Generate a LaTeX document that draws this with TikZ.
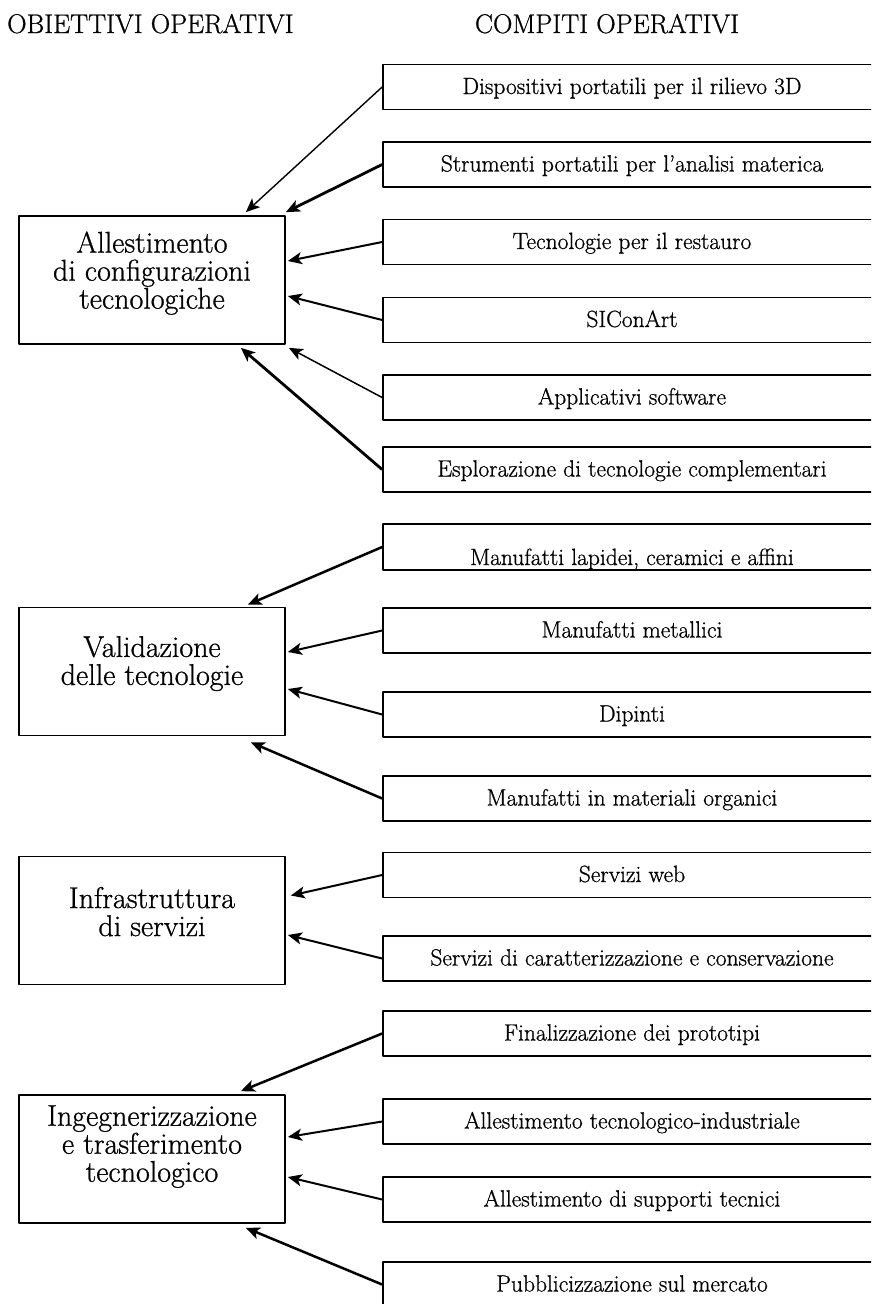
\documentclass[tikz,border=0pt]{standalone}
\usepackage{fontspec}
\setmainfont{Latin Modern Roman}[FakeBold=0.8]
\usepackage{tikz}
\usetikzlibrary{positioning,arrows.meta,calc}
\definecolor{ink}{HTML}{000000}

\tikzset{
  goal/.style={draw=ink, line width=1.7pt, minimum width=266pt, minimum height=128pt,
    align=center, inner sep=0pt, font=\fontsize{30}{28}\selectfont, text depth=#1},
  goal/.default=5pt,
  task/.style={draw=ink, line width=1.7pt, minimum width=498pt, minimum height=45pt,
    inner ysep=0pt, font=\fontsize{23.5}{26}\selectfont, text height=17pt, text depth=3pt},
  feed/.style={-{Stealth[length=14pt,width=12pt,inset=3.5pt]}, line width=#1},
  feed/.default=2pt,
  head/.style={inner sep=0pt, font=\fontsize{27}{30}\selectfont}
}

\begin{document}
\begin{tikzpicture}[x=1pt, y=-1pt, line join=round]
  \useasboundingbox (0,0) rectangle (871,1304);
  \clip (0,0) rectangle (871,1304);

  % column headings
  \node[head, anchor=base west] (hobj) at (7,33) {OBIETTIVI OPERATIVI};
  \node[head, anchor=base] (hcomp) at (607,33) {COMPITI OPERATIVI};

  % operative objectives, left column
  \node[goal=20pt] (alle) at (152,280) {Allestimento\\di configurazioni\\tecnologiche};
  \node[goal=22pt] (vali) at (152,671.5) {Validazione\\delle tecnologie};
  \node[goal=18pt] (infra) at (152,920.5) {Infrastruttura\\di servizi};
  \node[goal=31pt] (inge) at (152,1159) {Ingegnerizzazione\\e trasferimento\\tecnologico};

  % operative tasks, right column
  \node[task] (rilievo) at (632,87) {Dispositivi portatili per il rilievo 3D};
  \node[task] (analisi) at (632,164.5) {Strumenti portatili per l’analisi materica};
  \node[task] (restauro) at (632,242) {Tecnologie per il restauro};
  \node[task] (siconart) at (632,320) {SIConArt};
  \node[task] (software) at (632,397.5) {Applicativi software};
  \node[task] (esplora) at (632,469.5) {Esplorazione di tecnologie complementari};
  \node[task, text height=41pt, text depth=5pt] (lapidei) at (632,547) {Manufatti lapidei, ceramici e affini};
  \node[task] (metalli) at (632,630.5) {Manufatti metallici};
  \node[task] (dipinti) at (632,714.5) {Dipinti};
  \node[task] (organici) at (632,798.5) {Manufatti in materiali organici};
  \node[task] (web) at (632,875) {Servizi web};
  \node[task] (caratt) at (632,958.5) {Servizi di caratterizzazione e conservazione};
  \node[task] (prototipi) at (632,1033.5) {Finalizzazione dei prototipi};
  \node[task] (industria) at (632,1121.5) {Allestimento tecnologico-industriale};
  \node[task] (supporti) at (632,1199.5) {Allestimento di supporti tecnici};
  \node[task] (mercato) at (632,1284.5) {Pubblicizzazione sul mercato};

  % arrows into the first objective
  \draw[feed=1.4pt] (rilievo.west) -- ($(alle.north east)+(-40,-3)$);
  \draw[feed=2.8pt] (analisi.west) -- ($(alle.north east)+(0,-3)$);
  \draw[feed=2pt] (restauro.west) -- ($(alle.east)+(2,-19)$);
  \draw[feed=2pt] (siconart.west) -- ($(alle.east)+(2,16)$);
  \draw[feed=1.5pt] (software.west) -- ($(alle.south east)+(3,3)$);
  \draw[feed=2.8pt] (esplora.west) -- ($(alle.south east)+(-45,3)$);

  % arrows into the second objective
  \draw[feed=2.5pt] (lapidei.west) -- ($(vali.north east)+(-38,-2)$);
  \draw[feed] (metalli.west) -- ($(vali.east)+(2,-19.5)$);
  \draw[feed] (dipinti.west) -- ($(vali.east)+(2,17.5)$);
  \draw[feed=2.5pt] (organici.west) -- ($(vali.south east)+(-35,6)$);

  % arrows into the third objective
  \draw[feed] (web.west) -- ($(infra.east)+(5,-25)$);
  \draw[feed] (caratt.west) -- ($(infra.east)+(2,14.5)$);

  % arrows into the fourth objective
  \draw[feed=2.5pt] (prototipi.west) -- ($(inge.north east)+(-45,-3)$);
  \draw[feed] (industria.west) -- ($(inge.east)+(2,-22)$);
  \draw[feed] (supporti.west) -- ($(inge.east)+(2,18)$);
  \draw[feed=2.5pt] (mercato.west) -- ($(inge.south east)+(-40,4)$);
\end{tikzpicture}
\end{document}
